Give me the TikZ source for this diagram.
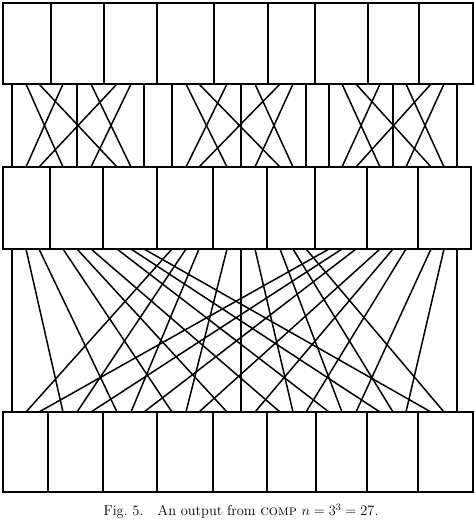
\documentclass[tikz,border=0pt]{standalone}
\begin{document}
\begin{tikzpicture}[x=1pt,y=-1pt,
  boxst/.style={draw, line width=1.8pt, inner sep=0pt, outer sep=0pt, anchor=north west},
  wire/.style={line width=1.5pt}]
\useasboundingbox (0,0) rectangle (474,520);
% row 1
\foreach \i/\a/\b in {0/3/51,1/51/104,2/104/157,3/157/214,4/214/268,5/268/315,6/315/368,7/368/419,8/419/473}
  \node[boxst, minimum width={(\b-\a)*1pt}, minimum height=81pt] (ra\i) at (\a,3) {};
% row 2
\foreach \i/\a/\b in {0/3/50,1/50/103,2/103/157,3/157/213,4/213/267,5/267/315,6/315/367,7/367/418,8/418/471}
  \node[boxst, minimum width={(\b-\a)*1pt}, minimum height=82pt] (rb\i) at (\a,167) {};
% row 3
\foreach \i/\a/\b in {0/3/48,1/48/103,2/103/157,3/157/213,4/213/267,5/267/316,6/316/367,7/367/418,8/418/473}
  \node[boxst, minimum width={(\b-\a)*1pt}, minimum height=80pt] (rc\i) at (\a,412) {};
% wire positions
\foreach \p/\x in {0/12,1/26,2/39,3/63,4/77,5/91,6/117,7/131,8/144,9/172,10/186,11/199,12/227,13/241,14/255,15/280,16/293,17/306,18/329,19/342,20/356,21/380,22/393,23/406,24/431,25/444,26/457}{
  \coordinate (a\p) at (\x,84);
  \coordinate (b\p) at (\x,167);
  \coordinate (c\p) at (\x,249);
  \coordinate (d\p) at (\x,412);
}
% stage 1
\foreach \g in {0,1,2}
 \foreach \u in {0,1,2}
  \foreach \v in {0,1,2}{
   \pgfmathtruncatemacro\s{9*\g+3*\u+\v}
   \pgfmathtruncatemacro\t{9*\g+3*\v+\u}
   \draw[wire] (a\s) -- (b\t);
  }
% stage 2
\foreach \j in {0,1,2}
 \foreach \i in {0,...,8}{
   \pgfmathtruncatemacro\s{9*\j+\i}
   \pgfmathtruncatemacro\t{3*\i+\j}
   \draw[wire] (c\s) -- (d\t);
 }
\node[font=\fontsize{14.4}{16}\selectfont, inner sep=0pt] (cap) at (241,511) {Fig.~5.\quad An output from \textsc{comp} $n=3^3=27$.};
\end{tikzpicture}
\end{document}
